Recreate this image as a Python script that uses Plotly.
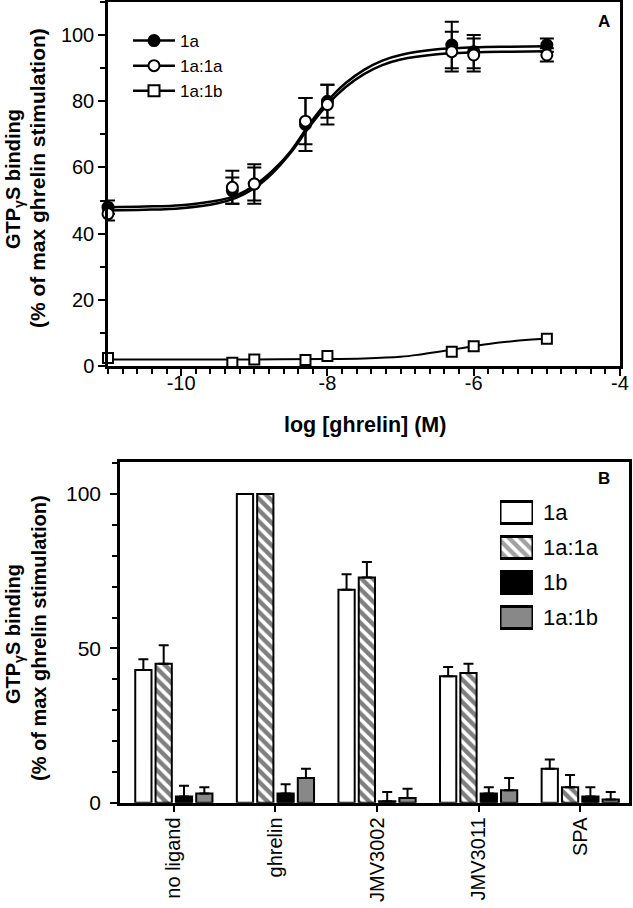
import plotly.graph_objects as go

# ---------------- Panel A data ----------------
log_conc = [-11, -9.3, -9, -8.3, -8, -6.3, -6, -5]
a1_vals = [48, 53, 55, 73, 80, 97, 95, 97]
a1_err = [2, 4, 5, 8, 5, 7, 5, 2]
a1a1_vals = [46, 54, 55, 74, 79, 95, 94, 94]
a1a1_err = [2, 5, 6, 7, 6, 6, 5, 2]
a1b_vals = [2.4, 1, 2, 1.8, 3, 4.3, 6, 8.2]

# fitted curves
fit_x = [-11, -10.5, -10, -9.5, -9.25, -9, -8.75, -8.5, -8.25, -8, -7.75, -7.5, -7.25, -7, -6.5, -6, -5.5, -5]
fit_a1 = [48.0, 48.2, 48.6, 50.0, 51.5, 54.5, 59.0, 65.0, 73.0, 80.0, 85.5, 89.5, 92.3, 94.0, 95.7, 96.3, 96.5, 96.6]
fit_a1a1 = [47.0, 47.2, 47.7, 49.2, 50.8, 53.7, 58.3, 64.5, 72.2, 79.0, 84.3, 88.2, 90.9, 92.6, 94.2, 94.8, 95.0, 95.1]
fit_b_x = [-11, -10, -9, -8, -7.5, -7, -6.75, -6.5, -6.25, -6, -5.75, -5.5, -5.25, -5]
fit_a1b = [2.0, 2.0, 2.0, 2.1, 2.3, 2.8, 3.4, 4.2, 5.1, 6.0, 6.8, 7.4, 7.9, 8.3]

a_xticks = [-10, -8, -6, -4]
a_xticktext = ["-10", "-8", "-6", "-4"]
a_yticks = [0, 20, 40, 60, 80, 100]

# ---------------- Panel B data ----------------
categories = ["no ligand", "ghrelin", "JMV3002", "JMV3011", "SPA"]
b_1a = [43, 100, 69, 41, 11]
b_1a_err = [3.5, 0, 5, 3, 3]
b_1a1a = [45, 100, 73, 42, 5]
b_1a1a_err = [6, 0, 5, 3, 4]
b_1b = [2, 3, 0.5, 3, 2]
b_1b_err = [3.5, 3, 3, 2, 3]
b_1a1b = [3, 8, 1.5, 4, 1]
b_1a1b_err = [2, 3, 3, 4, 2.5]
b_yticks = [0, 50, 100]

# legend of panel B (series names, swatch colours, swatch patterns)
b_series = ["1a", "1a:1a", "1b", "1a:1b"]
b_colors = ["white", "white", "black", "#888888"]
b_patterns = ["", "\\", "", ""]

W, H = 633, 908
FONT = "Liberation Sans, Arial, Helvetica, sans-serif"
LW = 2.5
HATCH = dict(fgcolor="black", bgcolor="white", size=8, solidity=0.55)
YTITLE_1 = "<b>GTP<sub>γ</sub>S binding</b>"
YTITLE_2 = "<b>(% of max ghrelin stimulation)</b>"


def px(x):
    return x / W


def py(y):
    return 1 - y / H


fig = go.Figure()

# ---- Panel A curves ----
fig.add_trace(go.Scatter(x=fit_x, y=fit_a1, mode="lines", line=dict(color="black", width=2.5, shape="spline"),
                         showlegend=False, xaxis="x", yaxis="y", hoverinfo="skip"))
fig.add_trace(go.Scatter(x=fit_x, y=fit_a1a1, mode="lines", line=dict(color="black", width=2.5, shape="spline"),
                         showlegend=False, xaxis="x", yaxis="y", hoverinfo="skip"))
fig.add_trace(go.Scatter(x=fit_b_x, y=fit_a1b, mode="lines", line=dict(color="black", width=2, shape="spline"),
                         showlegend=False, xaxis="x", yaxis="y", hoverinfo="skip"))

# ---- Panel A points ----
fig.add_trace(go.Scatter(x=log_conc, y=a1_vals, mode="markers", name="1a", showlegend=False,
                         marker=dict(symbol="circle", size=11, color="black", line=dict(color="black", width=2)),
                         error_y=dict(type="data", array=a1_err, color="black", thickness=2, width=7),
                         cliponaxis=False, xaxis="x", yaxis="y"))
fig.add_trace(go.Scatter(x=log_conc, y=a1a1_vals, mode="markers", name="1a:1a", showlegend=False,
                         marker=dict(symbol="circle", size=11, color="white", line=dict(color="black", width=2)),
                         error_y=dict(type="data", array=a1a1_err, color="black", thickness=2, width=7),
                         cliponaxis=False, xaxis="x", yaxis="y"))
fig.add_trace(go.Scatter(x=log_conc, y=a1b_vals, mode="markers", name="1a:1b", showlegend=False,
                         marker=dict(symbol="square", size=10, color="white", line=dict(color="black", width=2)),
                         cliponaxis=False, xaxis="x", yaxis="y"))

# legend entries for panel A (line + marker)
for nm, sym, col in [("1a", "circle", "black"), ("1a:1a", "circle", "white"), ("1a:1b", "square", "white")]:
    fig.add_trace(go.Scatter(x=[None], y=[None], mode="lines+markers", name=nm, legend="legend",
                             line=dict(color="black", width=2.5),
                             marker=dict(symbol=sym, size=11, color=col, line=dict(color="black", width=2)),
                             xaxis="x", yaxis="y"))


# ---- Panel B bars ----
def bar(vals, errs, name, color, pattern=None):
    return go.Bar(x=categories, y=vals, name=name, showlegend=False,
                  marker=dict(color=color, line=dict(color="black", width=2), pattern=pattern),
                  error_y=dict(type="data", array=errs, arrayminus=[0] * len(errs), symmetric=False,
                               color="black", thickness=2, width=5),
                  xaxis="x2", yaxis="y2")


fig.add_trace(bar(b_1a, b_1a_err, "1a", b_colors[0]))
fig.add_trace(bar(b_1a1a, b_1a1a_err, "1a:1a", b_colors[1], dict(shape=b_patterns[1], **HATCH)))
fig.add_trace(bar(b_1b, b_1b_err, "1b", b_colors[2]))
fig.add_trace(bar(b_1a1b, b_1a1b_err, "1a:1b", b_colors[3]))

# ---- Panel B legend: large swatches drawn in a small legend axis ----
fig.add_trace(go.Bar(y=b_series, x=[1] * len(b_series), orientation="h", width=0.63, showlegend=False,
                     marker=dict(color=b_colors, line=dict(color="black", width=3),
                                 pattern=dict(shape=b_patterns, **HATCH)),
                     hoverinfo="skip", xaxis="x3", yaxis="y3"))

axis_common = dict(showline=True, linecolor="black", linewidth=LW, mirror=True, showgrid=False, zeroline=False,
                   ticks="outside", tickcolor="black", tickwidth=2, ticklen=7, automargin=False)


def title_ann(text, x, y, size):
    return dict(text=text, textangle=-90, x=px(x), y=py(y), xref="paper", yref="paper",
                xanchor="center", yanchor="middle", showarrow=False,
                font=dict(family=FONT, size=size, color="black"))


fig.update_layout(
    width=W, height=H, margin=dict(l=0, r=0, t=0, b=0),
    paper_bgcolor="white", plot_bgcolor="white",
    font=dict(family=FONT, color="black"),
    barmode="group", bargap=0.2, bargroupgap=0.2,
    xaxis=dict(domain=[px(108), px(620)], range=[-11, -4], tickvals=a_xticks, ticktext=a_xticktext,
               minor=dict(dtick=0.2, ticklen=5, tickwidth=1.5, tickcolor="black", ticks="outside"),
               tickfont=dict(family=FONT, size=20, color="black"), ticklabelstandoff=-10,
               anchor="y", **axis_common),
    yaxis=dict(domain=[py(366), py(2)], range=[0, 110], tickvals=a_yticks,
               minor=dict(dtick=10, ticklen=5, tickwidth=1.5, tickcolor="black", ticks="outside"),
               tickfont=dict(family=FONT, size=20, color="black"),
               anchor="x", **axis_common),
    xaxis2=dict(domain=[px(120), px(629)], range=[-0.53, 4.48], type="category",
                categoryorder="array", categoryarray=categories, tickangle=-90,
                tickfont=dict(family=FONT, size=20, color="black"), ticklabelstandoff=-3,
                anchor="y2", **axis_common),
    yaxis2=dict(domain=[py(802.7), py(461.7)], range=[0, 110.5], tickvals=b_yticks,
                minor=dict(dtick=10, ticklen=5, tickwidth=1.5, tickcolor="black", ticks="outside"),
                tickfont=dict(family=FONT, size=21, color="black"), ticklabelstandoff=5,
                anchor="x2", **axis_common),
    xaxis3=dict(domain=[px(500), px(533)], range=[0, 1], visible=False, fixedrange=True, anchor="y3"),
    yaxis3=dict(domain=[py(635), py(495)], type="category", categoryorder="array",
                categoryarray=b_series[::-1], side="right", anchor="x3", showline=False, showgrid=False,
                zeroline=False, ticks="", ticklabelstandoff=9, automargin=False, fixedrange=True,
                tickfont=dict(family=FONT, size=22, color="black")),
    legend=dict(x=px(128), y=py(23), xanchor="left", yanchor="top", bgcolor="rgba(0,0,0,0)",
                font=dict(family=FONT, size=17, color="black"), itemwidth=42),
    annotations=[
        title_ann(YTITLE_1, 14, 179, 20),
        title_ann(YTITLE_2, 38, 178, 21),
        title_ann(YTITLE_1, 14, 634, 20),
        title_ann(YTITLE_2, 39, 638, 20),
        dict(text="<b>log [ghrelin] (M)</b>", x=px(365), y=py(425), xref="paper", yref="paper",
             xanchor="center", yanchor="middle",
             showarrow=False, font=dict(family=FONT, size=21.5, color="black")),
        dict(text="<b>A</b>", x=px(604), y=py(22), xref="paper", yref="paper", showarrow=False,
             xanchor="center", yanchor="middle", font=dict(family=FONT, size=17, color="black")),
        dict(text="<b>B</b>", x=px(604), y=py(478), xref="paper", yref="paper", showarrow=False,
             xanchor="center", yanchor="middle", font=dict(family=FONT, size=17, color="black")),
    ],
)

fig.write_html("out.html", config={"displayModeBar": False},
               post_script="document.body.style.margin='0';document.body.style.padding='0';")
